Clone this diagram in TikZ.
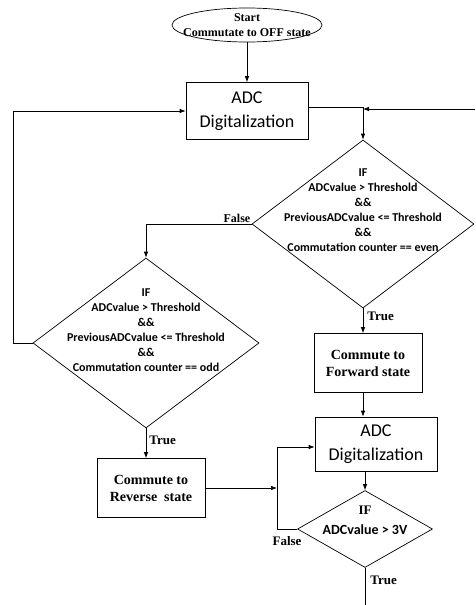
\documentclass[tikz,border=0pt]{standalone}
\usepackage{fontspec}
\setmainfont{Liberation Serif}
\newfontfamily\calibri{Carlito}
\usetikzlibrary{positioning,arrows.meta,shapes.geometric}

\begin{document}
\begin{tikzpicture}[x=1pt,y=-1pt,line width=0.7pt,
  arr/.style={-{Latex[length=6pt,width=4.5pt]}},
  adcbox/.style={draw,minimum width=122pt,minimum height=57pt,inner sep=0pt,align=center,font=\calibri\fontsize{18}{24}\selectfont},
  statebox/.style={draw,minimum width=108pt,minimum height=59pt,inner sep=0pt,align=center,font=\bfseries\fontsize{14}{17}\selectfont},
  cond/.style={draw,diamond,inner sep=0pt},
  condtext/.style={align=center,font=\calibri\bfseries\fontsize{12}{15}\selectfont},
  lbl/.style={font=\bfseries\fontsize{13}{15}\selectfont,inner sep=1pt}]
\useasboundingbox (0,0) rectangle (475,605);

% shapes
\node[draw,ellipse,minimum width=150pt,minimum height=34pt,inner sep=0pt] (start) at (247,25) {};
\node[align=center,font=\bfseries\fontsize{12}{15}\selectfont] (startTxt) at (start) {Start\\Commutate to OFF state};
\node[adcbox] (adcA) at (247,111) {ADC\\Digitalization};
\node[cond,minimum width=222pt,minimum height=168pt] (ifEven) at (363,224) {};
\node[condtext] (evenTxt) at (363,210) {IF\\ADCvalue > Threshold\\\&\&\\PreviousADCvalue <= Threshold\\\&\&\\Commutation counter == even};
\node[cond,minimum width=226pt,minimum height=170pt] (ifOdd) at (146,343) {};
\node[condtext] (oddTxt) at (146,330) {IF\\ADCvalue > Threshold\\\&\&\\PreviousADCvalue <= Threshold\\\&\&\\Commutation counter == odd};
\node[statebox] (fwd) at (368,363) {Commute to\\Forward state};
\node[statebox] (rev) at (151,488) {Commute to\\Reverse\ \ state};
\node[adcbox,minimum height=54pt] (adcB) at (376,444) {ADC\\Digitalization};
\node[cond,minimum width=135pt,minimum height=77pt] (ifV) at (365,529) {};
\node[font=\bfseries\fontsize{13}{15}\selectfont] (vIf) at (365,510) {IF};
\node[font=\calibri\bfseries\fontsize{14}{16}\selectfont] (vTxt) at (365,530) {ADCvalue > 3V};

\coordinate (loopIn) at (475,109);
\coordinate (join) at (277,489);
\coordinate (exitV) at (365,605);

% connectors
\draw[arr] (start) -- (adcA);
\draw[arr] ([yshift=4pt]adcA.east) -| (ifEven.north);
\draw[arr] (loopIn) -- (loopIn -| ifEven.north);
\draw[arr] (ifEven.west) -| (ifOdd.north);
\draw[arr] (ifOdd.west) -- ++(-19,0) |- (adcA.west);
\draw[arr] (ifOdd.south) -- (rev.north -| ifOdd.south);
\draw[arr] (ifEven.south) -- (fwd.north -| ifEven.south);
\draw[arr] (fwd.south -| ifEven.south) -- (adcB.north -| ifEven.south);
\draw[arr] (adcB.south -| ifV.north) -- (ifV.north);
\draw[arr] (rev.east) -- (rev.east -| join);
\draw[arr] (ifV.west) -- (ifV.west -| join) |- ([yshift=-3pt]adcB.west);
\draw (ifV.south) -- (exitV);

% labels
\node[lbl,font=\bfseries\fontsize{12}{14}\selectfont,above left] (fEven) at (ifEven.west) {False};
\node[lbl,anchor=west] (tEven) at (366,316) {True};
\node[lbl,anchor=west] (tOdd) at (148,440) {True};
\node[lbl] (fV) at (287,541) {False};
\node[lbl,anchor=west] (tV) at (369,580) {True};
\end{tikzpicture}
\end{document}
